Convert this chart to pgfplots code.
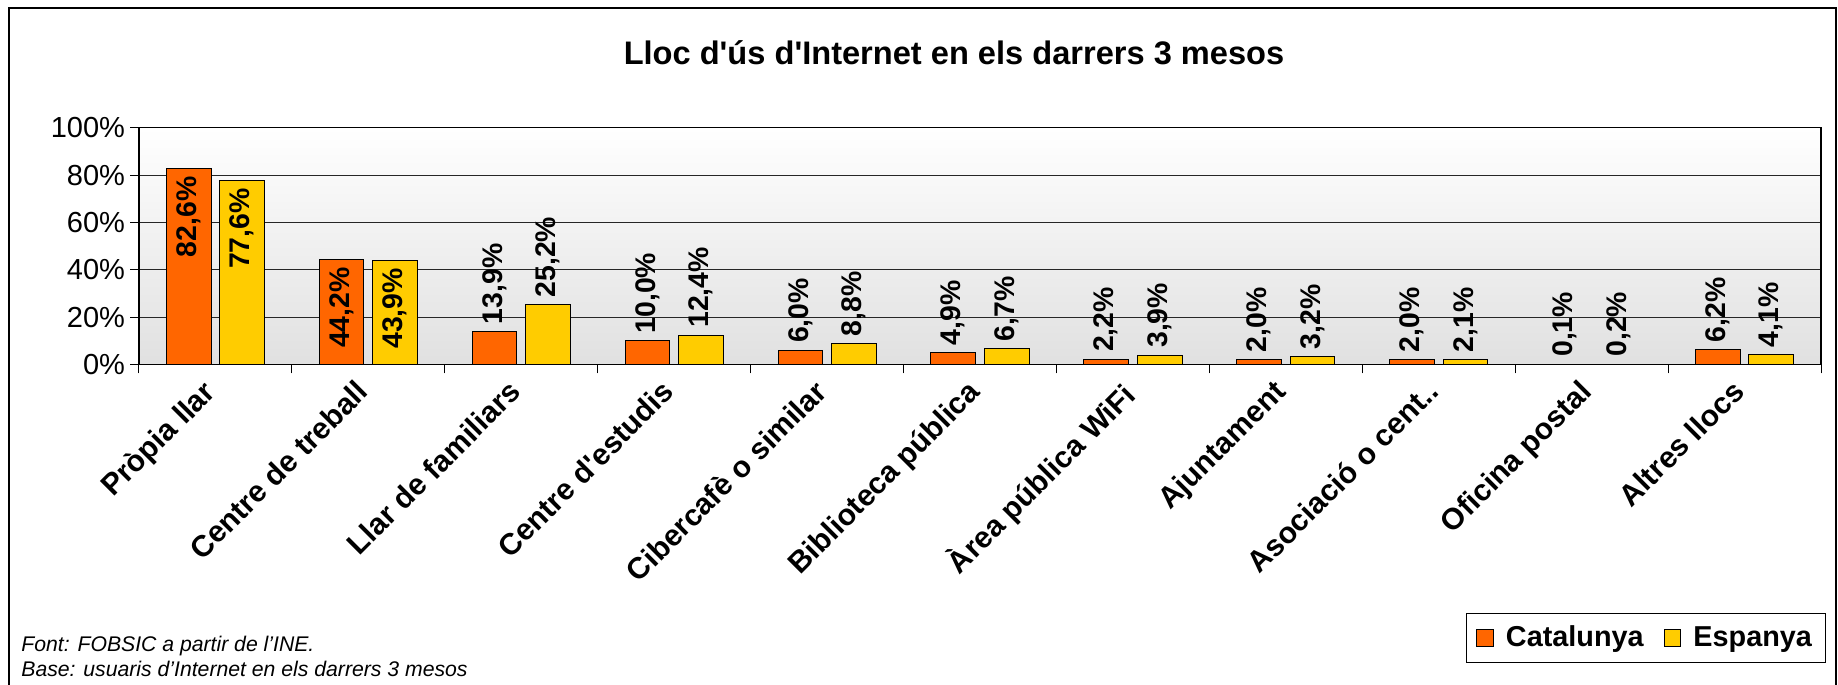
\documentclass[border=0pt]{standalone}
\usepackage{pgfplots}
\pgfplotsset{compat=1.18}
\usepackage{fontspec}
\setmainfont{Liberation Sans}
\definecolor{cat}{HTML}{FF6600}
\definecolor{esp}{HTML}{FFCC00}
\newcommand{\fs}[1]{\fontsize{#1}{#1}\selectfont}
\pgfplotsset{sq legend/.style={legend image code/.code={\draw[##1,draw=black,line width=0.5pt] (0pt,-4.2pt) rectangle (8.4pt,4.2pt);}}}
\begin{document}
\begin{tikzpicture}
\useasboundingbox (0,0) rectangle (919pt,342.5pt);
\draw[black, line width=0.6pt] (4.5pt,-2pt) -- (4.5pt,338.5pt) -- (918pt,338.5pt) -- (918pt,-2pt);
\node[font=\bfseries\fs{16.3}] at (477pt,316pt) {Lloc d\textquotesingle ús d\textquotesingle Internet en els darrers 3 mesos};
\node[font=\itshape\fs{10.6}, anchor=base west, inner sep=0pt] at (10.5pt,16.95pt) {Font: FOBSIC a partir de l’INE.};
\node[font=\itshape\fs{10.6}, anchor=base west, inner sep=0pt] at (10.5pt,4.05pt) {Base: usuaris d’Internet en els darrers 3 mesos};
\begin{axis}[
  at={(69.5pt,160.25pt)}, anchor=south west,
  width=841pt, height=118.35pt, scale only axis,
  ybar, bar width=0.292,
  xmin=-0.5, xmax=10.5, ymin=0, ymax=100,
  axis background/.style={shade, top color=white, bottom color=black!12},
  axis line style={black, line width=0.6pt},
  ytick={0,20,...,100}, yticklabels={0\%,20\%,40\%,60\%,80\%,100\%},
  yticklabel style={font=\fs{14.5}, xshift=1pt},
  ymajorgrids, grid style={black!85, line width=0.5pt},
  tick align=outside, major tick length=4.5pt, tick style={black, line width=0.5pt},
  xtick pos=bottom, ytick pos=left,
  xtick={-0.5,0.5,...,10.5}, xticklabels={},
  extra x ticks={0,1,...,10},
  extra x tick labels={Pròpia llar, Centre de treball, Llar de familiars, Centre d\textquotesingle estudis, Cibercafè o similar, Biblioteca pública, Àrea pública WiFi, Ajuntament, Asociació o cent.., Oficina postal, Altres llocs},
  extra x tick style={major tick length=0pt, grid=none, tick label style={xshift=-7pt, yshift=-2pt, rotate=45, anchor=north east, font=\bfseries\fs{15}}},
  every node near coord/.append style={rotate=90, font=\bfseries\fs{14.2}, black, inner sep=3.5pt},
  point meta=explicit symbolic,
  legend style={at={(1.0032,-1.2632)}, anchor=south east, draw=black, line width=0.5pt, font=\bfseries\fs{14.4}, inner xsep=5pt, inner ysep=4.5pt, /tikz/every odd column/.append style={column sep=4pt}, /tikz/every even column/.append style={column sep=8pt}},
  legend columns=2, legend cell align=left,
]
\addplot[fill=cat, draw=black, line width=0.5pt, bar shift=-0.175, sq legend, nodes near coords, every node near coord/.append style={anchor=east}]
  coordinates {(0,82.6)[82,6\%] (1,44.2)[44,2\%]};
\addlegendentry{Catalunya}
\addplot[forget plot, fill=cat, draw=black, line width=0.5pt, bar shift=-0.175, nodes near coords, every node near coord/.append style={anchor=west}]
  coordinates {(2,13.9)[13,9\%] (3,10.0)[10,0\%] (4,6.0)[6,0\%] (5,4.9)[4,9\%] (6,2.2)[2,2\%] (7,2.0)[2,0\%] (8,2.0)[2,0\%] (9,0.1)[0,1\%] (10,6.2)[6,2\%]};
\addplot[fill=esp, draw=black, line width=0.5pt, bar shift=0.175, sq legend, nodes near coords, every node near coord/.append style={anchor=east}]
  coordinates {(0,77.6)[77,6\%] (1,43.9)[43,9\%]};
\addlegendentry{Espanya}
\addplot[forget plot, fill=esp, draw=black, line width=0.5pt, bar shift=0.175, nodes near coords, every node near coord/.append style={anchor=west}]
  coordinates {(2,25.2)[25,2\%] (3,12.4)[12,4\%] (4,8.8)[8,8\%] (5,6.7)[6,7\%] (6,3.9)[3,9\%] (7,3.2)[3,2\%] (8,2.1)[2,1\%] (9,0.2)[0,2\%] (10,4.1)[4,1\%]};
\end{axis}
\end{tikzpicture}
\end{document}
